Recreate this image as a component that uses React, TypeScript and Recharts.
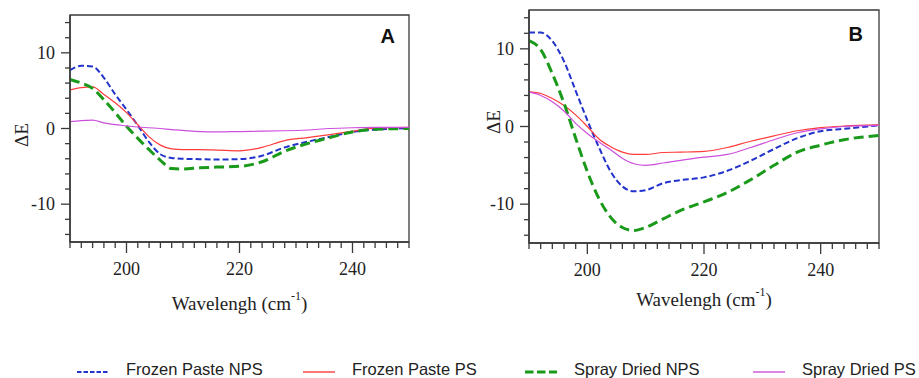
import React from 'react';
import { LineChart, Line, XAxis, YAxis, ReferenceArea, Label } from 'recharts';

// ---------- data ----------
const wavelengths = [190, 192, 194, 196, 198, 200, 202, 204, 206, 208, 210, 213, 216, 220, 224, 228, 232, 236, 240, 244, 250];

// Panel A
const aFrozenNPS = [7.7, 8.3, 8.2, 6.7, 4.5, 2.5, 0.4, -1.8, -3.4, -3.9, -4.0, -4.05, -4.1, -4.05, -3.6, -2.5, -1.75, -1.1, -0.45, -0.15, 0.05];
const aFrozenPS = [5.1, 5.4, 5.5, 4.5, 3.4, 2.1, 0.5, -1.1, -2.2, -2.7, -2.8, -2.8, -2.85, -2.95, -2.5, -1.6, -1.2, -0.8, -0.35, 0.05, 0.15];
const aSprayNPS = [6.5, 6.0, 5.3, 3.8, 2.1, 0.3, -1.3, -2.8, -4.2, -5.3, -5.35, -5.2, -5.1, -5.0, -4.4, -3.0, -2.0, -1.2, -0.45, -0.1, 0.0];
const aSprayPS = [0.9, 1.05, 1.1, 0.75, 0.5, 0.35, 0.2, 0.1, 0.0, -0.15, -0.25, -0.4, -0.45, -0.4, -0.35, -0.3, -0.2, 0.0, 0.1, 0.15, 0.15];

// Panel B
const bFrozenNPS = [12.1, 12.1, 11.0, 8.4, 4.6, 0.8, -2.7, -5.8, -7.7, -8.35, -8.2, -7.3, -6.9, -6.55, -5.7, -4.4, -2.9, -1.5, -0.6, -0.3, 0.15];
const bFrozenPS = [4.45, 4.25, 3.6, 2.7, 1.5, 0.0, -1.6, -2.6, -3.3, -3.6, -3.6, -3.35, -3.3, -3.2, -2.7, -1.9, -1.2, -0.55, -0.15, 0.05, 0.2];
const bSprayNPS = [11.05, 9.9, 6.8, 3.0, -1.5, -5.8, -9.3, -11.7, -13.0, -13.4, -13.0, -11.9, -10.8, -9.7, -8.5, -6.85, -5.0, -3.3, -2.4, -1.7, -1.15];
const bSprayPS = [4.45, 4.0, 3.2, 2.0, 0.4, -0.9, -2.0, -3.0, -4.1, -4.8, -5.0, -4.7, -4.35, -3.95, -3.6, -2.7, -1.7, -0.8, -0.3, 0.0, 0.15];

const seriesNames = ['Frozen Paste NPS', 'Frozen Paste PS', 'Spray Dried NPS', 'Spray Dried PS'];
const xTicks = [190, 192, 194, 196, 198, 200, 202, 204, 206, 208, 210, 212, 214, 216, 218, 220, 222, 224, 226, 228, 230, 232, 234, 236, 238, 240, 242, 244, 246, 248, 250];
const yTicks = [-14, -12, -10, -8, -6, -4, -2, 0, 2, 4, 6, 8, 10, 12, 14];

// ---------- styles ----------
const KEYS = ['fpNps', 'fpPs', 'sdNps', 'sdPs'];
const STYLES = [
  { color: '#2233cc', width: 2, dash: '6 3', legendDash: '4.5 2', legendWidth: 2 },
  { color: '#ff3b3b', width: 1.2, dash: undefined, legendDash: undefined, legendWidth: 1.4 },
  { color: '#1a9a1a', width: 3, dash: '10 5', legendDash: '8.5 3.5', legendWidth: 3 },
  { color: '#cc4fdc', width: 1.2, dash: undefined, legendDash: undefined, legendWidth: 1.4 },
];
const LEGEND_LEFT = [77, 303, 525, 753];

const SERIF = '"Liberation Serif", "Times New Roman", serif';
const SANS = '"Liberation Sans", Arial, sans-serif';
const AXIS = '#3a3a3a';

function buildRows(cols: number[][]) {
  return wavelengths.map((wl, i) => {
    const row: Record<string, number> = { wl };
    KEYS.forEach((k, j) => (row[k] = cols[j][i]));
    return row;
  });
}

const dataA = buildRows([aFrozenNPS, aFrozenPS, aSprayNPS, aSprayPS]);
const dataB = buildRows([bFrozenNPS, bFrozenPS, bSprayNPS, bSprayPS]);

const serifStyle = { fontFamily: SERIF };

const XTick = (props: any) => {
  const { x, y, payload } = props;
  const v = payload.value;
  const major = v % 20 === 0;
  return (
    <g>
      <line x1={x} x2={x} y1={y} y2={y + (major ? 11 : 6)} stroke={AXIS} strokeWidth={1.3} />
      {major ? (
        <text x={x} y={y + 27} textAnchor="middle" dominantBaseline="central" fontSize={18} style={serifStyle} fill="#222">
          {v}
        </text>
      ) : null}
    </g>
  );
};

const YTick = (props: any) => {
  const { x, y, payload } = props;
  const v = payload.value;
  const major = v % 10 === 0;
  return (
    <g>
      <line x1={x} x2={x - (major ? 9 : 5)} y1={y} y2={y} stroke={AXIS} strokeWidth={1.3} />
      {major ? (
        <text x={x - 15} y={y} textAnchor="end" dominantBaseline="central" fontSize={18} style={serifStyle} fill="#222">
          {v}
        </text>
      ) : null}
    </g>
  );
};

type PanelProps = {
  data: Record<string, number>[];
  letter: string;
  left: number;
  width: number;
  margin: { top: number; right: number; left: number; bottom: number };
  yAxisWidth: number;
  xAxisHeight: number;
  xLabelOffset: number;
  yLabelX: number;
  yLabelY: number;
  letterDx: number;
  letterDy: number;
};

function Panel(p: PanelProps) {
  return (
    <div style={{ position: 'absolute', left: p.left, top: 0 }}>
      <LineChart width={p.width} height={320} data={p.data} margin={p.margin}>
        <XAxis
          dataKey="wl"
          type="number"
          domain={[190, 250]}
          ticks={xTicks}
          interval={0}
          allowDataOverflow
          tickSize={0}
          tickMargin={0}
          tickLine={false}
          tick={XTick}
          height={p.xAxisHeight}
          axisLine={{ stroke: AXIS, strokeWidth: 1.5 }}
        >
          <Label
            content={(lp: any) => {
              const vb = lp.viewBox;
              return (
                <text
                  x={vb.x + vb.width / 2}
                  y={vb.y + p.xLabelOffset}
                  textAnchor="middle"
                  dominantBaseline="central"
                  fontSize={19}
                  style={serifStyle}
                  fill="#222"
                >
                  Wavelengh (cm
                  <tspan fontSize={12} dy={-7}>-1</tspan>
                  <tspan dy={7}>)</tspan>
                </text>
              );
            }}
          />
        </XAxis>
        <YAxis
          type="number"
          domain={[-15, 15]}
          ticks={yTicks}
          interval={0}
          allowDataOverflow
          tickSize={0}
          tickMargin={0}
          tickLine={false}
          tick={YTick}
          width={p.yAxisWidth}
          axisLine={{ stroke: AXIS, strokeWidth: 1.5 }}
        >
          <Label
            content={() => (
              <text
                x={p.yLabelX}
                y={p.yLabelY}
                transform={`rotate(-90 ${p.yLabelX} ${p.yLabelY})`}
                textAnchor="middle"
                dominantBaseline="central"
                fontSize={19}
                style={serifStyle}
                fill="#222"
              >
                ΔE
              </text>
            )}
          />
        </YAxis>
        <ReferenceArea x1={190} x2={250} y1={-15} y2={15} fill="none" fillOpacity={0} stroke={AXIS} strokeWidth={1.3}>
          <Label
            content={(lp: any) => {
              const vb = lp.viewBox;
              return (
                <text
                  x={vb.x + vb.width - p.letterDx}
                  y={vb.y + p.letterDy}
                  textAnchor="end"
                  dominantBaseline="central"
                  fontSize={20}
                  fontWeight="bold"
                  style={{ fontFamily: SANS }}
                  fill="#111"
                >
                  {p.letter}
                </text>
              );
            }}
          />
        </ReferenceArea>
        {KEYS.map((k, i) => (
          <Line
            key={k}
            dataKey={k}
            name={seriesNames[i]}
            type="monotone"
            stroke={STYLES[i].color}
            strokeWidth={STYLES[i].width}
            strokeDasharray={STYLES[i].dash}
            dot={false}
            activeDot={false}
            isAnimationActive={false}
          />
        ))}
      </LineChart>
    </div>
  );
}

function LegendRow() {
  return (
    <>
      {seriesNames.map((name, i) => (
        <div
          key={name}
          style={{
            position: 'absolute',
            left: LEGEND_LEFT[i],
            top: 358,
            height: 22,
            display: 'flex',
            alignItems: 'center',
            fontFamily: SANS,
            fontSize: 16.5,
            color: '#222',
            whiteSpace: 'nowrap',
          }}
        >
          <svg width={32} height={22} style={{ display: 'block' }}>
            <line
              x1={0}
              x2={32}
              y1={14}
              y2={14}
              stroke={STYLES[i].color}
              strokeWidth={STYLES[i].legendWidth}
              strokeDasharray={STYLES[i].legendDash}
            />
          </svg>
          <span style={{ marginLeft: 17 }}>{name}</span>
        </div>
      ))}
    </>
  );
}

export default function App() {
  return (
    <div style={{ position: 'absolute', left: 0, top: 0, width: 919, height: 378, background: '#fff', overflow: 'hidden' }}>
      <Panel
        data={dataA}
        letter="A"
        left={0}
        width={420}
        margin={{ top: 15, right: 11, left: 0, bottom: 0 }}
        yAxisWidth={70}
        xAxisHeight={78}
        xLabelOffset={61}
        yLabelX={21}
        yLabelY={135}
        letterDx={14}
        letterDy={21}
      />
      <Panel
        data={dataB}
        letter="B"
        left={460}
        width={459}
        margin={{ top: 10, right: 40, left: 0, bottom: 0 }}
        yAxisWidth={69}
        xAxisHeight={77}
        xLabelOffset={56}
        yLabelX={33}
        yLabelY={122}
        letterDx={16}
        letterDy={24}
      />
      <LegendRow />
    </div>
  );
}
